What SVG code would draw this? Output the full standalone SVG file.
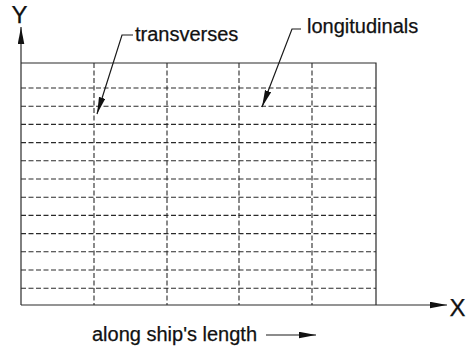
<svg xmlns="http://www.w3.org/2000/svg" width="470" height="349" viewBox="0 0 470 349">
<defs>
<style>
.t{font-family:"Liberation Sans",Arial,sans-serif;fill:#111;stroke:#111;stroke-width:0.25;}
.solid{stroke:#2a2a2a;stroke-width:1.2;fill:none;}
.dash{stroke:#2a2a2a;stroke-width:1.1;stroke-dasharray:5,2.5;fill:none;}
.lead{stroke:#1a1a1a;stroke-width:1.2;fill:none;}
</style>
<marker id="ah" markerUnits="userSpaceOnUse" markerWidth="18" markerHeight="8" refX="17" refY="3.25" orient="auto">
<path d="M0,0 L17,3.25 L0,6.5 Z" fill="#111"/>
</marker>
</defs>
<rect width="470" height="349" fill="#fff"/>
<g id="grid">
<path class="dash" d="M21,88H376M21,106.2H376M21,124.4H376M21,142.6H376M21,160.8H376M21,179H376M21,197.2H376M21,215.4H376M21,233.6H376M21,251.8H376M21,270H376M21,288.2H376"/>
<path class="dash" d="M94,63V305M167,63V305M239,63V305M312,63V305"/>
<path class="solid" d="M21,63H376V305"/>
</g>
<g id="axes">
<line class="solid" x1="21" y1="305" x2="21" y2="27" marker-end="url(#ah)"/>
<line class="solid" x1="21" y1="305" x2="447" y2="305" marker-end="url(#ah)"/>
<text class="t" x="19.5" y="23" font-size="24" text-anchor="middle">Y</text>
<text class="t" x="457.5" y="316" font-size="24" text-anchor="middle">X</text>
</g>
<g id="connectors">
<polyline class="lead" points="133,35 122,35 97,114" marker-end="url(#ah)"/>
<polyline class="lead" points="301,29 292,29 262,107" marker-end="url(#ah)"/>
<line class="lead" x1="266" y1="335" x2="316" y2="335" marker-end="url(#ah)"/>
</g>
<g id="transverses"><text class="t" x="135" y="41" font-size="20">transverses</text></g>
<g id="longitudinals"><text class="t" x="307" y="33" font-size="20">longitudinals</text></g>
<g id="length"><text class="t" x="92" y="341" font-size="20">along ship's length</text></g>
</svg>
